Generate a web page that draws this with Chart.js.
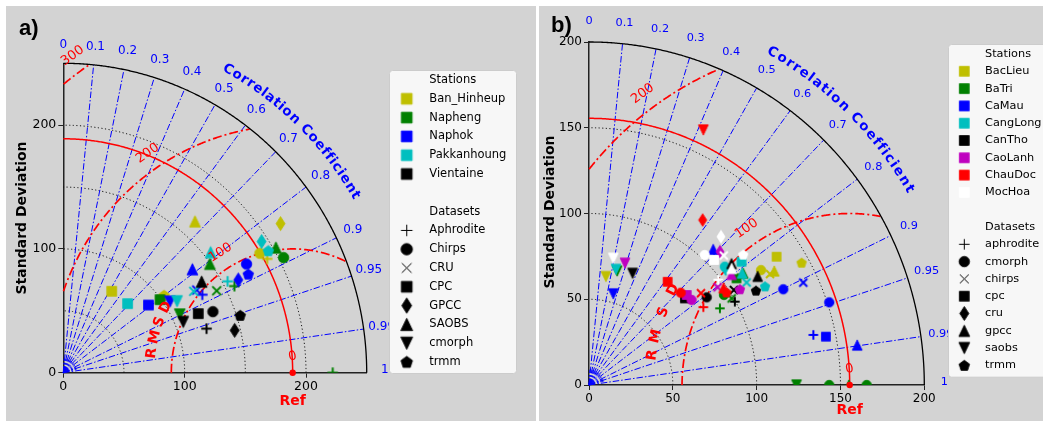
<!DOCTYPE html>
<html><head><meta charset="utf-8">
<script src="https://cdn.jsdelivr.net/npm/chart.js@4.4.1/dist/chart.umd.min.js"></script>
<style>
html,body{margin:0;padding:0;background:#fff;width:1043px;height:421px;overflow:hidden}
.panel{position:absolute;top:6px;height:415px;background:#d3d3d3;overflow:hidden}
#pa{left:6px;width:530px}
#pb{left:539px;width:504px}
canvas{display:block}
</style></head><body>
<div id="pa" class="panel"><canvas id="ca" width="530" height="415"></canvas></div>
<div id="pb" class="panel"><canvas id="cb" width="504" height="415"></canvas></div>
<script>
// ---------------- DATA ----------------
const corrTicks = [0,0.1,0.2,0.3,0.4,0.5,0.6,0.7,0.8,0.9,0.95,0.99,1];
const corrLines = [0.1,0.2,0.3,0.4,0.5,0.6,0.7,0.8,0.9,0.95,0.99];

// Panel a
const aStdMax = 250;
const aRefStd = 189;
const aStdTicks = [0,100,200];
const aStdArcs = [50,100,150,200];
const aRmsLevels = [100,200,300];
const aStations = ['Ban_Hinheup','Napheng','Naphok','Pakkanhoung','Vientaine'];
const aDatasets = ['Aphrodite','Chirps','CRU','CPC','GPCC','SAOBS','cmorph','trmm'];
const aBanHinheup = [['Aphrodite',168,92],['Chirps',162,96.5],['CPC',39.9,65.8],['GPCC',179,120.5],['SAOBS',108.5,122.3],['trmm',83,62.5]];
const aNapheng = [['Aphrodite',141,70],['Aphrodite',222,0],['Chirps',181.5,93],['CRU',126.4,66.2],['CPC',79.7,59],['SAOBS',120.8,88],['SAOBS',175.2,101.2],['cmorph',96,47]];
const aNaphok = [['Aphrodite',114.5,63],['Chirps',151,87.8],['CRU',110,66.8],['CPC',70.2,54.7],['GPCC',144.2,75],['SAOBS',106.4,83.6],['cmorph',87.9,57.4],['trmm',152.4,79.6]];
const aPakkanhoung = [['Aphrodite',135.4,73.8],['CRU',107.5,65.8],['CPC',53,55.8],['GPCC',163.4,106],['SAOBS',121.4,97.4],['cmorph',93.7,57.7],['trmm',168.9,98.5]];
const aVientaine = [['Aphrodite',118,35.6],['Chirps',123.3,49.3],['CPC',111.2,47.7],['GPCC',141.2,34.2],['SAOBS',114,73.6],['cmorph',98.8,41],['trmm',145.8,46.3]];
const aPoints = [aBanHinheup,aNapheng,aNaphok,aPakkanhoung,aVientaine];

// Panel b
const bStdMax = 200;
const bRefStd = 155.5;
const bStdTicks = [0,50,100,150,200];
const bStdArcs = [50,100,150];
const bRmsLevels = [100,200];
const bStations = ['BacLieu','BaTri','CaMau','CangLong','CanTho','CaoLanh','ChauDoc','MocHoa'];
const bDatasets = ['aphrodite','cmorph','chirps','cpc','cru','gpcc','saobs','trmm'];
const bBacLieu = [['saobs',10.1,63.2],['cpc',111.9,74.8],['trmm',126.8,71.3],['cmorph',102.6,67],['chirps',108,64.7],['gpcc',110.5,66.5]];
const bBaTri = [['aphrodite',78.1,44.7],['chirps',85.1,50.5],['cmorph',80.5,52.5],['cpc',88,62.2],['gpcc',92,65.2],['saobs',16.8,66.4],['saobs',123.8,0],['cmorph',143.3,0],['cmorph',165.6,0],['gpcc',155,0]];
const bCaMau = [['saobs',14.5,53.1],['gpcc',74.1,79.1],['cmorph',115.9,55.8],['chirps',127.8,59.7],['cmorph',143.3,48.2],['aphrodite',133.8,29.2],['cpc',141.3,28.2],['gpcc',160,23.3]];
const bCangLong = [['saobs',16.1,67.4],['cmorph',81,69],['cru',81.5,67.5],['cpc',91,71.9],['gpcc',91.4,65.3],['chirps',94,59.8],['trmm',105,57.5]];
const bCanTho = [['saobs',26,65.1],['cmorph',70.2,51.1],['cpc',57.2,50.5],['chirps',86.4,55.4],['aphrodite',87,48.6],['trmm',99.6,55],['gpcc',100.6,63.4],['gpcc',85,70.8]];
const bCaoLanh = [['saobs',21.5,71],['cmorph',61.2,49.6],['cpc',58.3,52.5],['chirps',76.7,57],['gpcc',85,64.5],['trmm',90,55.8],['cru',78.1,77.7]];
const bChauDoc = [['cpc',46.9,60.2],['cmorph',54.7,53.8],['chirps',66.8,53.5],['aphrodite',68.2,45.4],['gpcc',80.3,56.7],['trmm',82,54],['cru',67.8,96.2],['saobs',68.2,148.7]];
const bMocHoa = [['saobs',14.5,73.9],['cru',78.7,86.5],['chirps',80.4,75.5],['cmorph',69,75.8],['cpc',74.6,72.9],['trmm',92,76],['gpcc',85.1,68],['aphrodite',77.1,61.4]];
const bPoints = [bBacLieu,bBaTri,bCaMau,bCangLong,bCanTho,bCaoLanh,bChauDoc,bMocHoa];

// ---------------- STYLE ----------------
const aColors = ['#bfbf00','#008000','#0000ff','#00bfbf','#000000'];
const bColors = ['#bfbf00','#008000','#0000ff','#00bfbf','#000000','#bf00bf','#ff0000','#ffffff'];
const aShapes = {Aphrodite:'plus',Chirps:'circle',CRU:'x',CPC:'square',GPCC:'diamond',SAOBS:'triUp',cmorph:'triDown',trmm:'pentagon'};
const bShapes = {aphrodite:'plus',cmorph:'circle',chirps:'x',cpc:'square',cru:'diamond',gpcc:'triUp',saobs:'triDown',trmm:'pentagon'};
const FONT = '"DejaVu Sans", "Liberation Sans", sans-serif';

function drawShape(g, type, color, s, lw, cx, cy) {
  g.fillStyle = color; g.strokeStyle = color; g.lineWidth = 0.8; g.lineJoin = 'miter';
  g.beginPath();
  if (type === 'circle') { g.arc(cx, cy, s/2, 0, Math.PI*2); g.fill(); }
  else if (type === 'square') { const h = s*0.47; g.rect(cx-h, cy-h, 2*h, 2*h); g.fill(); }
  else if (type === 'diamond') { const w = s*0.43, h = s*0.67; g.moveTo(cx, cy-h); g.lineTo(cx+w, cy); g.lineTo(cx, cy+h); g.lineTo(cx-w, cy); g.closePath(); g.fill(); }
  else if (type === 'triUp') { const w = s*0.52, h = s*0.54; g.moveTo(cx, cy-h); g.lineTo(cx+w, cy+h); g.lineTo(cx-w, cy+h); g.closePath(); g.fill(); }
  else if (type === 'triDown') { const w = s*0.52, h = s*0.54; g.moveTo(cx, cy+h); g.lineTo(cx+w, cy-h); g.lineTo(cx-w, cy-h); g.closePath(); g.fill(); }
  else if (type === 'pentagon') { const r = s*0.53; for (let k=0;k<5;k++){const a=-Math.PI/2+k*2*Math.PI/5; const x=cx+r*Math.cos(a), y=cy+r*Math.sin(a)+s*0.04; k?g.lineTo(x,y):g.moveTo(x,y);} g.closePath(); g.fill(); }
  else if (type === 'plus') { const h = s*0.5; g.lineWidth = lw; g.moveTo(cx-h, cy); g.lineTo(cx+h, cy); g.moveTo(cx, cy-h); g.lineTo(cx, cy+h); g.stroke(); return; }
  else if (type === 'x') { const h = s*0.42; g.lineWidth = lw; g.moveTo(cx-h, cy-h); g.lineTo(cx+h, cy+h); g.moveTo(cx+h, cy-h); g.lineTo(cx-h, cy+h); g.stroke(); return; }
  g.stroke();
}
const markerCache = {};
function markerCanvas(type, color, s, lw) {
  const key = [type,color,s,lw].join('|');
  if (markerCache[key]) return markerCache[key];
  const size = Math.ceil(s*1.6 + 4);
  const c = document.createElement('canvas'); c.width = c.height = size;
  drawShape(c.getContext('2d'), type, color, s, lw, size/2, size/2);
  markerCache[key] = c; return c;
}

// ---------------- PLUGIN ----------------
function P(chart, x, y) { return [chart.scales.x.getPixelForValue(x), chart.scales.y.getPixelForValue(y)]; }
function SF(chart) { const xs = chart.scales.x, ys = chart.scales.y; return [xs.getPixelForValue(1)-xs.getPixelForValue(0), ys.getPixelForValue(0)-ys.getPixelForValue(1)]; }
function strokePts(ctx, pts) { if (pts.length < 2) return; ctx.beginPath(); ctx.moveTo(pts[0][0], pts[0][1]); for (let i=1;i<pts.length;i++) ctx.lineTo(pts[i][0], pts[i][1]); ctx.stroke(); }
const D2R = Math.PI/180;

const taylor = {
  id: 'taylor',
  beforeDatasetsDraw(chart, args, o) {
    const ctx = chart.ctx; ctx.save();
    const R = o.R;
    // dotted std arcs
    ctx.strokeStyle = '#111'; ctx.lineWidth = 1; ctx.setLineDash([1.2, 2.4]);
    o.stdArcs.forEach(r => { const pts=[]; for (let i=0;i<=300;i++){const a=Math.PI/2*i/300; pts.push(P(chart, r*Math.cos(a), r*Math.sin(a)));} strokePts(ctx, pts); });
    // radial correlation lines
    ctx.strokeStyle = '#0000ff'; ctx.lineWidth = 1; ctx.setLineDash([6.5, 2, 1.5, 2]);
    o.corrLines.forEach(c => { const a = Math.acos(c); strokePts(ctx, [P(chart,0,0), P(chart, R*Math.cos(a), R*Math.sin(a))]); });
    // minor fan near origin
    ctx.lineWidth = 0.8;
    for (let c=0.05; c<0.999; c+=0.1) { const a=Math.acos(c); strokePts(ctx,[P(chart,0,0),P(chart,0.045*R*Math.cos(a),0.045*R*Math.sin(a))]); }
    [0.92,0.94,0.97].forEach(c=>{ const a=Math.acos(c); strokePts(ctx,[P(chart,0,0),P(chart,0.045*R*Math.cos(a),0.045*R*Math.sin(a))]); });
    ctx.setLineDash([]); ctx.fillStyle='#0000ff';
    const o0 = P(chart,0,0); ctx.beginPath(); ctx.moveTo(o0[0],o0[1]); ctx.arc(o0[0],o0[1],2.5,-Math.PI/2,0); ctx.closePath(); ctx.fill();
    // RMSD circles
    ctx.strokeStyle = '#ff0000'; ctx.lineWidth = 1.7; ctx.setLineDash([9, 3, 2, 3]);
    o.rms.forEach(r => {
      let seg = [];
      for (let i=0;i<=900;i++) {
        const t = Math.PI - Math.PI*i/900;
        const x = o.ref + r*Math.cos(t), y = r*Math.sin(t);
        if (x >= 0 && Math.hypot(x,y) <= R) seg.push(P(chart,x,y));
        else { strokePts(ctx, seg); seg = []; }
      }
      strokePts(ctx, seg);
    });
    // reference std arc
    ctx.setLineDash([]); ctx.lineWidth = 1.5;
    { const pts=[]; for (let i=0;i<=300;i++){const a=Math.PI/2*i/300; pts.push(P(chart, o.ref*Math.cos(a), o.ref*Math.sin(a)));} strokePts(ctx, pts); }
    // outer arc
    ctx.strokeStyle = '#000'; ctx.lineWidth = 1.3;
    { const pts=[]; for (let i=0;i<=400;i++){const a=Math.PI/2*i/400; pts.push(P(chart, R*Math.cos(a), R*Math.sin(a)));} strokePts(ctx, pts); }
    ctx.restore();
  },
  afterDatasetsDraw(chart, args, o) {
    const ctx = chart.ctx; ctx.save();
    const R = o.R; const [sx, sy] = SF(chart);
    ctx.textAlign = 'center'; ctx.textBaseline = 'middle';
    // correlation tick labels
    ctx.fillStyle = '#0000ff'; ctx.font = o.corrFont + 'px ' + FONT;
    o.corrTicks.forEach(c => { const a = Math.acos(c); const p = P(chart, 1.06*R*Math.cos(a), 1.06*R*Math.sin(a)); ctx.fillText(String(c), p[0], p[1] - (c===1?3:0)); });
    // curved title
    ctx.font = 'bold ' + o.titleFont + 'px ' + FONT;
    const txt = [...'Correlation Coefficient'];
    const ws = txt.map(ch => ctx.measureText(ch).width*o.titleSpread);
    const cen = []; let acc = 0; ws.forEach(w => { cen.push(acc + w/2); acc += w; });
    const c0 = cen[0], c1 = cen[cen.length-1];
    txt.forEach((ch, i) => {
      if (ch === ' ') return;
      const f = (cen[i]-c0)/(c1-c0);
      const phi = (o.titleStart + (o.titleEnd - o.titleStart)*f)*D2R;
      const p = P(chart, o.titleR*R*Math.cos(phi), o.titleR*R*Math.sin(phi));
      const rot = Math.atan2(sy*Math.cos(phi), sx*Math.sin(phi));
      ctx.save(); ctx.translate(p[0], p[1]); ctx.rotate(rot); ctx.fillText(ch, 0, 0); ctx.restore();
    });
    // RMSD contour labels
    ctx.fillStyle = '#ff0000'; ctx.font = o.rmsFont + 'px ' + FONT;
    const rp = P(chart, o.ref, 0);
    o.rms.forEach((r, i) => {
      const t = o.rmsLabelAngles[i]*D2R;
      const p = P(chart, o.ref + r*Math.cos(t), r*Math.sin(t));
      let nx = p[0]-rp[0], ny = p[1]-rp[1]; const nl = Math.hypot(nx,ny); nx/=nl; ny/=nl;
      const rot = Math.atan2(sy*Math.cos(t), sx*Math.sin(t));
      ctx.save(); ctx.translate(p[0]+nx*o.rmsLabelOff, p[1]+ny*o.rmsLabelOff); ctx.rotate(rot); ctx.fillText(String(r), 0, 0); ctx.restore();
    });
    // RMSD letters
    ctx.font = 'bold ' + o.rmsdFont + 'px ' + FONT;
    ['R','M','S','D'].forEach((ch, i) => {
      const t = o.rmsdAngles[i]*D2R;
      const p = P(chart, o.ref + o.rmsdR*Math.cos(t), o.rmsdR*Math.sin(t));
      const rot = Math.atan2(sy*Math.cos(t), sx*Math.sin(t));
      ctx.save(); ctx.translate(p[0], p[1]); ctx.rotate(rot); ctx.fillText(ch, 0, 0); ctx.restore();
    });
    // red 0 near reference
    ctx.font = o.rmsFont + 'px ' + FONT;
    ctx.save(); ctx.translate(rp[0], rp[1]-16); ctx.rotate(-12*D2R); ctx.fillText('0', 0, 0); ctx.restore();
    // axis titles
    ctx.font = 'bold ' + o.axisFont + 'px ' + FONT;
    ctx.fillText('Ref', rp[0], o.refTitleY);
    ctx.fillStyle = '#000';
    ctx.save(); ctx.translate(o.yTitleX, o.yTitleY); ctx.rotate(-Math.PI/2); ctx.fillText('Standard Deviation', 0, 0); ctx.restore();
    // panel label
    ctx.textAlign = 'left'; ctx.textBaseline = 'alphabetic';
    ctx.font = 'bold 22px "Liberation Sans", Arial, sans-serif';
    ctx.fillText(o.panel, o.panelX, o.panelY);
    // legend
    const L = o.legend;
    ctx.beginPath();
    if (ctx.roundRect) ctx.roundRect(L.x0+0.5, L.y0+0.5, L.x1-L.x0, L.y1-L.y0, 3); else ctx.rect(L.x0+0.5, L.y0+0.5, L.x1-L.x0, L.y1-L.y0);
    ctx.fillStyle = '#f7f7f7'; ctx.fill(); ctx.strokeStyle = '#cccccc'; ctx.lineWidth = 1; ctx.stroke();
    ctx.font = L.font + 'px ' + FONT; ctx.textBaseline = 'middle'; ctx.fillStyle = '#000';
    let y = L.yStart;
    ctx.fillText('Stations', L.tx, y); y += L.step;
    o.stations.forEach((st, i) => {
      const m = markerCanvas('square', o.colors[i], L.ms, 1);
      ctx.drawImage(m, L.mx - m.width/2, y - m.height/2);
      ctx.fillStyle = '#000'; ctx.fillText(st, L.tx, y); y += L.step;
    });
    y += L.step;
    ctx.fillText('Datasets', L.tx, y); y += L.step;
    o.datasets.forEach(ds => {
      const m = markerCanvas(o.shapes[ds], '#000000', L.ms, 1);
      ctx.drawImage(m, L.mx - m.width/2, y - m.height/2);
      ctx.fillStyle = '#000'; ctx.fillText(ds, L.tx, y); y += L.step;
    });
    ctx.restore();
  }
};

// ---------------- BUILD ----------------
function build(id, cfg) {
  const datasets = cfg.points.map((arr, i) => ({
    label: cfg.stations[i],
    data: arr.map(p => ({x: p[1], y: p[2], d: p[0]})),
    pointStyle: (c) => markerCanvas(cfg.shapes[c.raw.d], cfg.colors[i], cfg.ms, 2),
    pointRadius: 6, pointHoverRadius: 6, borderWidth: 0,
    clip: 0, order: -i
  }));
  datasets.push({label:'Ref', data:[{x: cfg.ref, y: 0}], pointStyle:'circle', pointRadius:3.2, backgroundColor:'#ff0000', borderColor:'#ff0000', borderWidth:0, clip:false, order:-100});
  const axisCommon = (ticks, afterFit) => ({
    type: 'linear', min: 0, max: cfg.R,
    afterFit, afterBuildTicks: s => { s.ticks = ticks.map(v => ({value: v})); },
    grid: {drawOnChartArea: false, drawTicks: true, tickLength: 5, color: '#222', lineWidth: 1},
    border: {display: true, color: '#222', width: 1.5},
    ticks: {color: '#000', font: {family: FONT, size: cfg.tickFont}, padding: 2, maxRotation: 0, autoSkip: false}
  });
  return new Chart(document.getElementById(id), {
    type: 'scatter',
    data: {datasets},
    options: {
      responsive: false, animation: false, events: [],
      layout: {padding: cfg.pad},
      plugins: {legend: {display: false}, tooltip: {enabled: false}, taylor: cfg.taylor},
      scales: {
        x: axisCommon(cfg.ticks, s => { s.height = cfg.xH; }),
        y: axisCommon(cfg.ticks, s => { s.width = cfg.yW; })
      }
    },
    plugins: [taylor]
  });
}

build('ca', {
  R: aStdMax, ref: aRefStd, ticks: aStdTicks, points: aPoints, stations: aStations, colors: aColors, shapes: aShapes,
  ms: 10.5, tickFont: 12.5, xH: 30, yW: 40, pad: {left: 17.3, top: 57.3, right: 169.3, bottom: 18.3},
  taylor: {
    R: aStdMax, ref: aRefStd, stdArcs: aStdArcs, rms: aRmsLevels, corrTicks, corrLines,
    corrFont: 12, titleFont: 13.5, titleSpread: 1, titleR: 1.12, titleStart: 61, titleEnd: 30.8,
    rmsFont: 13, rmsLabelAngles: [121.5, 124, 125.3], rmsLabelOff: 17,
    rmsdFont: 14, rmsdR: 117, rmsdAngles: [172.3, 165.8, 159.5, 153.2],
    axisFont: 14, refTitleY: 395, yTitleX: 16, yTitleY: 212,
    panel: 'a)', panelX: 13, panelY: 29,
    stations: aStations, datasets: aDatasets, colors: aColors, shapes: aShapes,
    legend: {x0: 383, y0: 64, x1: 510, y1: 367, tx: 423.3, mx: 400.7, yStart: 74, step: 18.8, font: 11.5, ms: 11.5}
  }
});

build('cb', {
  R: bStdMax, ref: bRefStd, ticks: bStdTicks, points: bPoints, stations: bStations, colors: bColors, shapes: bShapes,
  ms: 9.5, tickFont: 12, xH: 28, yW: 38, pad: {left: 12, top: 36, right: 118.7, bottom: 8},
  taylor: {
    R: bStdMax, ref: bRefStd, stdArcs: bStdArcs, rms: bRmsLevels, corrTicks, corrLines,
    corrFont: 11.3, titleFont: 13.5, titleSpread: 1, titleR: 1.113, titleStart: 60.6, titleEnd: 30.9,
    rmsFont: 13, rmsLabelAngles: [124, 126], rmsLabelOff: 17,
    rmsdFont: 14, rmsdR: 119, rmsdAngles: [171.6, 166.2, 159.1, 152.3],
    axisFont: 14, refTitleY: 404.7, yTitleX: 11, yTitleY: 206,
    panel: 'b)', panelX: 12, panelY: 26,
    stations: bStations, datasets: bDatasets, colors: bColors, shapes: bShapes,
    legend: {x0: 409, y0: 38, x1: 520, y1: 370.7, tx: 446, mx: 425.3, yStart: 48, step: 17.3, font: 11.3, ms: 10.5}
  }
});
</script>
</body></html>
